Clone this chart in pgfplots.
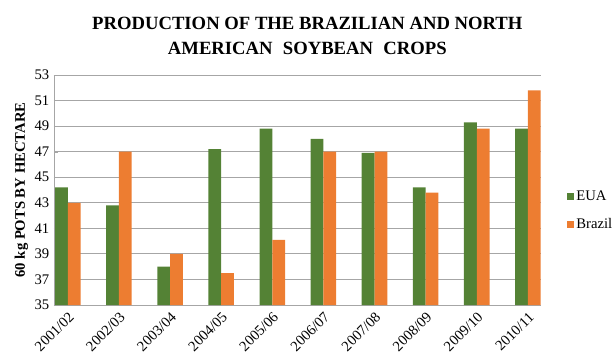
\documentclass[border=0pt]{standalone}
\usepackage{pgfplots}
\pgfplotsset{compat=1.18}
\usepackage{fontspec}
\setmainfont{Liberation Serif}
\definecolor{cgreen}{HTML}{548235}
\definecolor{corange}{HTML}{ED7D31}
\begin{document}
\begin{tikzpicture}
\begin{axis}[
  at={(40.5pt,39.75pt)}, anchor=south west,
  scale only axis, width=365pt, height=172.5pt,
  ybar, bar width=0.25,
  ymin=35, ymax=53, ytick={35,37,...,53},
  xmin=-0.27, xmax=9.25,
  xtick={0,...,9},
  xticklabels={2001/02,2002/03,2003/04,2004/05,2005/06,2006/07,2007/08,2008/09,2009/10,2010/11},
  xticklabel style={rotate=45, anchor=north east, inner sep=1pt, font=\fontsize{11}{11}\selectfont},
  yticklabel style={font=\fontsize{11}{11}\selectfont},
  yticklabel={\pgfmathprintnumber{\tick}},
  /pgf/number format/assume math mode=true,
  ymajorgrids, grid style={gray!70, line width=0.6pt},
  axis line style={gray!70, line width=0.6pt},
  axis x line*=bottom, axis y line*=left,
  major tick length=3pt,
  xtick style={draw=none}, ytick style={gray!70},
  ylabel={\bfseries 60 kg POTS BY HECTARE},
  ylabel style={font=\fontsize{11}{12}\selectfont, yshift=-2pt},
  title={\bfseries PRODUCTION OF THE BRAZILIAN AND NORTH\\ \bfseries AMERICAN\hspace{0.3em} SOYBEAN\hspace{0.3em} CROPS},
  title style={font=\fontsize{14}{18.5}\selectfont, align=center, at={(0.5,1)}, yshift=6pt, xshift=7.5pt},
  legend style={at={(1.045,0.41)}, anchor=west, draw=none, font=\fontsize{11}{11}\selectfont, row sep=8pt},
  legend image code/.code={\fill[#1] (0pt,-2.6pt) rectangle (5.2pt,2.6pt);},
  legend cell align=left,
  clip=false,
]
\addplot[fill=cgreen, draw=none, bar shift=-0.125] coordinates {(0,44.2) (1,42.8) (2,38.0) (3,47.2) (4,48.8) (5,48.0) (6,46.9) (7,44.2) (8,49.3) (9,48.8)};
\addplot[fill=corange, draw=none, bar shift=0.125] coordinates {(0,43.0) (1,47.0) (2,39.0) (3,37.5) (4,40.1) (5,47.0) (6,47.0) (7,43.8) (8,48.8) (9,51.8)};
\legend{EUA,Brazil}
\end{axis}
\pgfresetboundingbox
\path[use as bounding box] (0pt,0pt) rectangle (461.25pt,268.5pt);
\end{tikzpicture}
\end{document}
